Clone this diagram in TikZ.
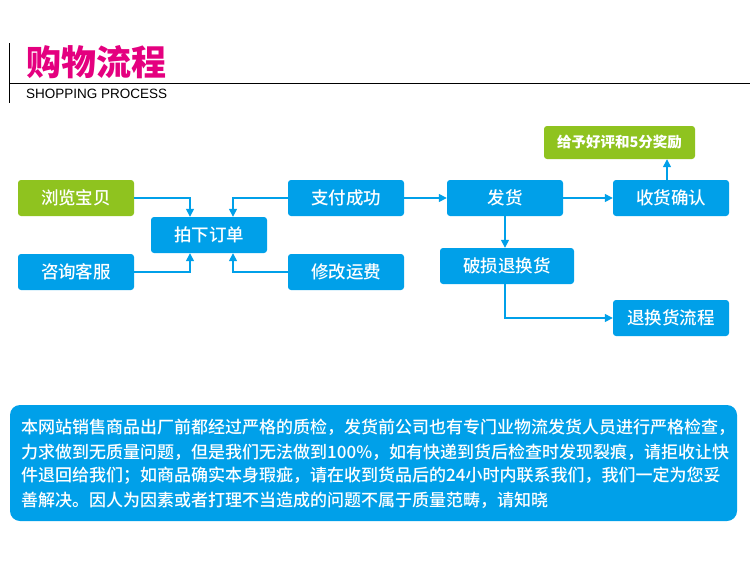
\documentclass[tikz,border=0pt]{standalone}
\usepackage{fontspec}
\setmainfont{Liberation Sans}
\newfontfamily\cjk{Noto Sans CJK SC}
\newfontfamily\cjkm{Noto Sans CJK SC Medium}
\usetikzlibrary{arrows.meta}
\definecolor{myblue}{RGB}{0,160,233}
\definecolor{mygreen}{RGB}{143,195,31}
\definecolor{mymagenta}{RGB}{228,0,127}
\tikzset{
  stepbox/.style={fill=myblue, rounded corners=3pt, text=white, minimum width=116pt, minimum height=36pt, inner sep=0pt, font=\cjkm\fontsize{17.5}{17.5}\selectfont},
  greenbox/.style={stepbox, fill=mygreen},
  arr/.style={draw=myblue, line width=1.4pt, -{Triangle[length=8pt,width=8pt]}},
  para/.style={anchor=west, text=white, inner sep=0pt, font=\cjkm\fontsize{17}{17}\selectfont}
}
\begin{document}
\begin{tikzpicture}[x=1pt,y=-1pt]
\useasboundingbox (0,0) rectangle (750,570);
% header
\coordinate (vt) at (9.5,43);
\coordinate (vb) at (9.5,103);
\coordinate (hl) at (9.5,83.5);
\coordinate (hr) at (750,83.5);
\draw[line width=0.8pt] (vt) -- (vb);
\draw[line width=0.8pt] (hl) -- (hr);
\node[anchor=west, inner sep=0pt, text=mymagenta, font=\cjk\bfseries\fontsize{35}{35}\selectfont] (title) at (26,62) {购物流程};
\node[anchor=west, inner sep=0pt, font=\fontsize{13.5}{13.5}\selectfont] (sub) at (26,94) {SHOPPING PROCESS};
% boxes
\node[greenbox] (browse) at (76,198) {浏览宝贝};
\node[stepbox] (consult) at (76,272) {咨询客服};
\node[stepbox] (order) at (209,235) {拍下订单};
\node[stepbox] (pay) at (346,198) {支付成功};
\node[stepbox] (modify) at (346,272) {修改运费};
\node[stepbox] (ship) at (505,198) {发货};
\node[stepbox] (confirm) at (671,198) {收货确认};
\node[greenbox, minimum width=151pt, minimum height=33pt, font=\cjk\bfseries\fontsize{14.5}{14.5}\selectfont] (praise) at (619.5,142.5) {给予好评和5分奖励};
\node[stepbox, minimum width=134pt] (damage) at (507,266) {破损退换货};
\node[stepbox] (ret) at (671,318) {退换货流程};
% connectors
\draw[arr] (browse.east) -| ([xshift=-19pt]order.north);
\draw[arr] (consult.east) -| ([xshift=-19pt]order.south);
\draw[arr] (pay.west) -| ([xshift=24pt]order.north);
\draw[arr] (modify.west) -| ([xshift=24pt]order.south);
\draw[arr] (pay.east) -- (ship.west);
\draw[arr] (ship.east) -- (confirm.west);
\draw[arr] ([xshift=-4pt]confirm.north) -- ([xshift=-4pt]confirm.north |- praise.south);
\draw[arr] (ship.south) -- (ship.south |- damage.north);
\draw[arr] (damage.south -| ship.south) |- (ret.west);
% note box
\node[fill=myblue, rounded corners=10pt, minimum width=727pt, minimum height=116pt, inner sep=0pt] (note) at (373.5,463) {};
\node[para] (l1) at (21,427) {本网站销售商品出厂前都经过严格的质检，发货前公司也有专门业物流发货人员进行严格检查，};
\node[para] (l2) at (21,452) {力求做到无质量问题，但是我们无法做到100\%，如有快递到货后检查时发现裂痕，请拒收让快};
\node[para] (l3) at (21,476) {件退回给我们；如商品确实本身瑕疵，请在收到货品后的24小时内联系我们，我们一定为您妥};
\node[para] (l4) at (21,500) {善解决。因人为因素或者打理不当造成的问题不属于质量范畴，请知晓};
\end{tikzpicture}
\end{document}
